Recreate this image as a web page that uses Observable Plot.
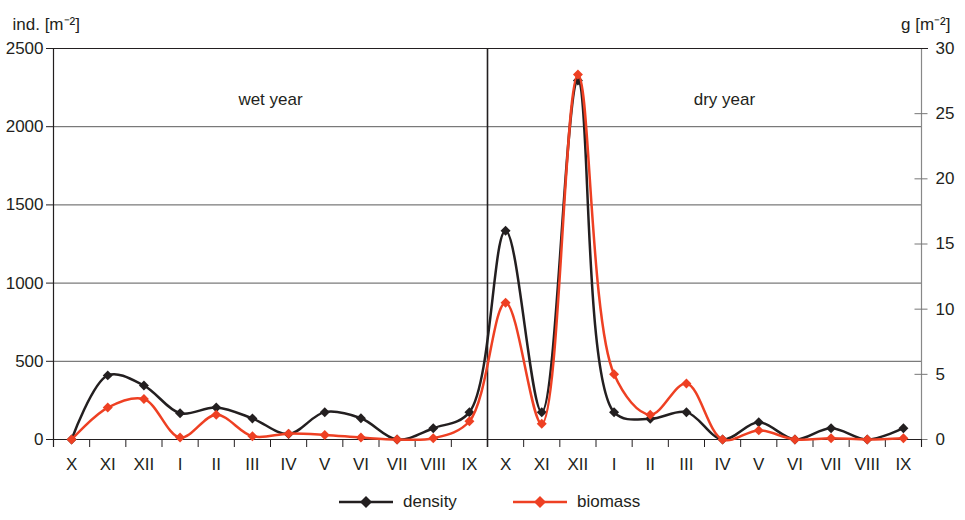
<!DOCTYPE html>
<html>
<head>
<meta charset="utf-8">
<script src="https://cdn.jsdelivr.net/npm/d3@7"></script>
<script src="https://cdn.jsdelivr.net/npm/@observablehq/plot@0.6"></script>
<style>
  html, body { margin: 0; padding: 0; background: #fff; }
  body { width: 965px; height: 520px; overflow: hidden; font-family: "Liberation Sans", Arial, sans-serif; color: #231f20; }
  #legend { height: 35px; position: relative; }
  .item { display: flex; align-items: center; position: absolute; }
</style>
</head>
<body>
<div id="chart"></div>
<div id="legend"></div>
<script>
const months = ["X","XI","XII","I","II","III","IV","V","VI","VII","VIII","IX"];
const labels = [...months, ...months];
const density = [0, 410, 345, 168, 205, 135, 35, 175, 136, 0, 72, 175,
                 1335, 175, 2295, 175, 132, 175, 0, 110, 0, 72, 0, 72];
const biomass = [0, 2.45, 3.1, 0.15, 1.9, 0.25, 0.45, 0.35, 0.15, 0, 0.1, 1.4,
                 10.5, 1.2, 28.0, 5.0, 1.9, 4.3, 0, 0.7, 0, 0.1, 0, 0.1];
const densityTicks = [0, 500, 1000, 1500, 2000, 2500];
const biomassTicks = [0, 5, 10, 15, 20, 25, 30];
const periods = [{label: "wet year", at: 5.5}, {label: "dry year", at: 18.05}];
const divider = [11.5];
const seriesNames = ["density", "biomass"];

const BLACK = "#231f20", RED = "#ee4023";
const k = 2500 / 30;
const rows = labels.map((m, i) => ({i, m, density: density[i], biomass: biomass[i]}));
const boundaries = d3.range(25).map(i => i - 0.5);
const font = "Liberation Sans, Arial, sans-serif";

const plot = Plot.plot({
  width: 965,
  height: 485,
  marginLeft: 53,
  marginRight: 44,
  marginTop: 48,
  marginBottom: 46,
  style: {fontFamily: font, fontSize: "17px", color: BLACK, background: "#fff"},
  x: {type: "linear", domain: [-0.5, 23.5]},
  y: {domain: [0, 2500]},
  marks: [
    Plot.ruleY(densityTicks.filter(d => d > 0 && d < 2500), {stroke: "#5a5a5a", strokeWidth: 1}),
    Plot.ruleX([23.5], {stroke: "#888", strokeWidth: 1.2, insetBottom: -8}),
    Plot.ruleY(biomassTicks.map(v => v * k), {x1: 23.5, x2: 23.5, insetLeft: -6.5, insetRight: -6.5, stroke: "#777", strokeWidth: 1}),
    Plot.ruleY([2500], {stroke: BLACK, strokeWidth: 1.2, insetRight: -7}),
    Plot.ruleY([0], {stroke: BLACK, strokeWidth: 1.2}),
    Plot.ruleX([-0.5], {stroke: BLACK, strokeWidth: 1.2, insetBottom: -8}),
    Plot.ruleX(divider, {stroke: BLACK, strokeWidth: 1.6, insetBottom: -8}),
    Plot.axisY(densityTicks, {anchor: "left", tickSize: 7, tickPadding: 3, tickFormat: d => String(d), label: null, fontSize: 17, stroke: BLACK}),
    Plot.axisY(biomassTicks.map(v => v * k), {anchor: "right", tickSize: 0, tickPadding: 14,
      tickFormat: d => String(Math.round(d / k)), label: null, fontSize: 17, color: BLACK}),
    Plot.axisX(d3.range(24), {tickSize: 0, tickPadding: 18, tickFormat: i => labels[i], label: null, fontSize: 17}),
    Plot.axisX(boundaries, {tickSize: 8, tickFormat: () => "", label: null, stroke: BLACK}),
    Plot.text(["ind. [m\u207B\u00B2]"], {text: d => d, frameAnchor: "top-left", dx: -41, dy: -31, textAnchor: "start", fontSize: 17, fill: BLACK}),
    Plot.text(["g [m\u207B\u00B2]"], {text: d => d, frameAnchor: "top-right", dx: 29, dy: -31, textAnchor: "end", fontSize: 17, fill: BLACK}),
    Plot.text(periods, {x: "at", text: "label", frameAnchor: "top", dy: 44, fontSize: 17, fill: BLACK}),
    Plot.line(rows, {x: "i", y: "density", stroke: BLACK, strokeWidth: 2.5, curve: "catmull-rom"}),
    Plot.dot(rows, {x: "i", y: "density", symbol: "diamond2", r: 4.5, fill: BLACK, stroke: "none"}),
    Plot.line(rows, {x: "i", y: d => d.biomass * k, stroke: RED, strokeWidth: 2.5, curve: "catmull-rom"}),
    Plot.dot(rows, {x: "i", y: d => d.biomass * k, symbol: "diamond2", r: 4.5, fill: RED, stroke: "none"})
  ]
});
document.getElementById("chart").appendChild(plot);

// legend
const legend = d3.select("#legend");
const colors = [BLACK, RED];
const lefts = [338, 512];
seriesNames.forEach((name, j) => {
  const item = legend.append("div").attr("class", "item").style("left", lefts[j] + "px").style("top", "5px");
  const svg = item.append("svg").attr("width", 56).attr("height", 24);
  svg.append("line").attr("x1", 1).attr("x2", 55).attr("y1", 12).attr("y2", 12)
    .attr("stroke", colors[j]).attr("stroke-width", 2.5);
  svg.append("path").attr("d", "M28,6L34,12L28,18L22,12Z").attr("fill", colors[j]);
  item.append("span").text(name).style("margin-left", "9px").style("font-size", "17px");
});
</script>
</body>
</html>
